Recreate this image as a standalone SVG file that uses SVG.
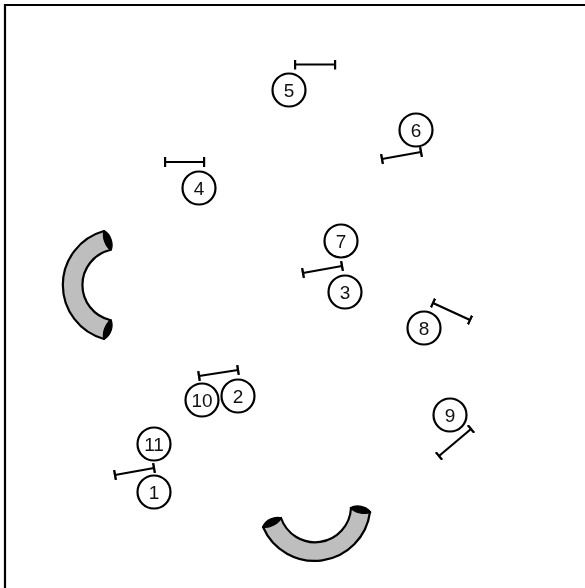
<svg xmlns="http://www.w3.org/2000/svg" width="585" height="588" viewBox="0 0 585 588">
<style>
.f{fill:none;stroke:#000;stroke-width:2.200}
.c{fill:#fff;stroke:#000;stroke-width:2.200}
.t{font-family:"Liberation Sans",Arial,sans-serif;font-size:19px;text-anchor:middle;fill:#111;filter:url(#g)}
.b{fill:#bebebe;stroke:#000;stroke-width:2.200;stroke-linejoin:round}
</style>
<defs>
<filter id="g" x="-20%" y="-20%" width="140%" height="140%" color-interpolation-filters="sRGB"><feOffset dx="0" dy="0"/></filter>
<marker id="tick" markerWidth="3" markerHeight="10" refX="1.500" refY="5" orient="auto" markerUnits="userSpaceOnUse"><rect x=".300" width="2.400" height="10" fill="#000"/></marker>
<path id="cap" fill="#000" stroke="#000" stroke-width="1.200" stroke-linejoin="round" d="M-10.500 0C-5 -5 5 -5 10.500 0C5 4 -5 4 -10.500 0Z"/>
</defs>
<rect width="585" height="588" fill="#fff"/>
<path class="f" d="M5 588V5H585"/>
<g id="connectors">
<path class="f" marker-start="url(#tick)" marker-end="url(#tick)" d="M295 64.500H335"/>
<path class="f" marker-start="url(#tick)" marker-end="url(#tick)" d="M382 159L421 152"/>
<path class="f" marker-start="url(#tick)" marker-end="url(#tick)" d="M165 162H204"/>
<path class="f" marker-start="url(#tick)" marker-end="url(#tick)" d="M303 273L342 266"/>
<path class="f" marker-start="url(#tick)" marker-end="url(#tick)" d="M433 303L470 320"/>
<path class="f" marker-start="url(#tick)" marker-end="url(#tick)" d="M199 376L238 370"/>
<path class="f" marker-start="url(#tick)" marker-end="url(#tick)" d="M439 456L471 429"/>
<path class="f" marker-start="url(#tick)" marker-end="url(#tick)" d="M115 475L154 468"/>
</g>
<g id="tunnel-left">
<path class="b" d="M104 231A56 56 0 0 0 104 339L110 320A36 36 0 0 1 110 250Z"/>
<use href="#cap" transform="translate(107.500 240.500) rotate(70)"/>
<use href="#cap" transform="translate(107.500 329.500) rotate(110)"/>
</g>
<g id="tunnel-bottom">
<path class="b" d="M263 527A56 56 0 0 0 370 512L351 508A36 36 0 0 1 281 518Z"/>
<use href="#cap" transform="translate(272 522.500) rotate(-26)"/>
<use href="#cap" transform="translate(360.500 510) rotate(12)"/>
</g>
<g id="n1"><circle class="c" cx="154" cy="492" r="16.500"/><text class="t" x="154" y="498.500">1</text></g>
<g id="n2"><circle class="c" cx="238" cy="396" r="16.500"/><text class="t" x="238" y="402.500">2</text></g>
<g id="n3"><circle class="c" cx="345" cy="292" r="16.500"/><text class="t" x="345" y="298.500">3</text></g>
<g id="n4"><circle class="c" cx="199" cy="188" r="16.500"/><text class="t" x="199" y="194.500">4</text></g>
<g id="n5"><circle class="c" cx="289" cy="90" r="16.500"/><text class="t" x="289" y="96.500">5</text></g>
<g id="n6"><circle class="c" cx="416" cy="130" r="16.500"/><text class="t" x="416" y="136.500">6</text></g>
<g id="n7"><circle class="c" cx="341" cy="241" r="16.500"/><text class="t" x="341" y="247.500">7</text></g>
<g id="n8"><circle class="c" cx="424" cy="328" r="16.500"/><text class="t" x="424" y="334.500">8</text></g>
<g id="n9"><circle class="c" cx="450" cy="415" r="16.500"/><text class="t" x="450" y="421.500">9</text></g>
<g id="n10"><circle class="c" cx="202" cy="400" r="16.500"/><text class="t" x="202" y="406.500">10</text></g>
<g id="n11"><circle class="c" cx="154" cy="444" r="16.500"/><text class="t" x="154" y="450.500">11</text></g>
</svg>
